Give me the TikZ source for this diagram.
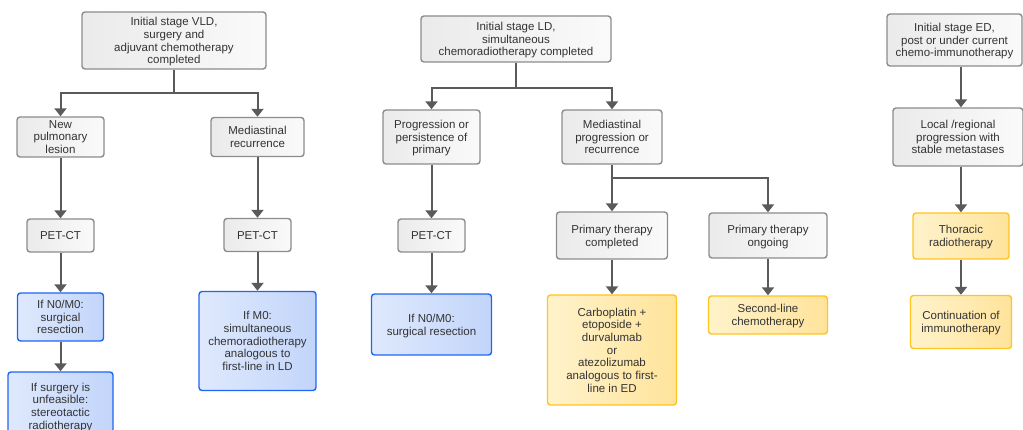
\documentclass[tikz,border=0pt]{standalone}
\usepackage{fontspec}
\setmainfont{Liberation Sans}
\usetikzlibrary{positioning,arrows.meta,calc}
\definecolor{linegrey}{HTML}{5A5A5A}
\definecolor{boxgrey}{HTML}{8C8C8C}
\definecolor{txtgrey}{HTML}{333333}
\definecolor{blueline}{HTML}{1F66F5}
\definecolor{blueA}{HTML}{DFE9FD}
\definecolor{blueB}{HTML}{C2D5FA}
\definecolor{yellowline}{HTML}{FFC41F}
\definecolor{yellowA}{HTML}{FFF3CB}
\definecolor{yellowB}{HTML}{FFE39B}
\tikzset{
  box/.style={rectangle, rounded corners=3pt, line width=1.4pt, align=center,
    inner sep=2pt, text=txtgrey, font=\fontsize{11.5}{12.7}\selectfont,
    text depth=-4.5pt},
  greybox/.style={box, draw=boxgrey, left color=black!8, right color=black!2},
  bluebox/.style={box, draw=blueline, left color=blueA, right color=blueB},
  yellowbox/.style={box, draw=yellowline, left color=yellowA, right color=yellowB},
  arr/.style={draw=linegrey, line width=2pt, -{Triangle[width=12pt,length=8pt]}}
}
\begin{document}
\begin{tikzpicture}[x=1pt,y=-1pt,on grid]
  \useasboundingbox (0,0) rectangle (1023,430);
  % VLD column
  \node[greybox, minimum width=184pt, minimum height=57pt] (vld) at (174,40.5)
    {Initial stage VLD,\\surgery and\\adjuvant chemotherapy\\completed};
  \node[greybox, minimum width=87pt, minimum height=40pt] (lesion) at (60.5,137)
    {New\\pulmonary\\lesion};
  \node[greybox, minimum width=93pt, minimum height=39pt] (recur) [right=197pt of lesion]
    {Mediastinal\\recurrence};
  \node[greybox, minimum width=67pt, minimum height=33pt] (petA) [below=98.5pt of lesion] {PET-CT};
  \node[bluebox, minimum width=86pt, minimum height=48pt] (nzeroA) [below=81.5pt of petA]
    {If N0/M0:\\surgical\\resection};
  \node[bluebox, minimum width=105pt, minimum height=68pt] (unfeas) [below=89pt of nzeroA]
    {If surgery is\\unfeasible:\\stereotactic\\radiotherapy};
  \node[greybox, minimum width=67pt, minimum height=33pt] (petB) [below=98pt of recur] {PET-CT};
  \node[bluebox, minimum width=117pt, minimum height=99pt] (mzero) [below=106pt of petB]
    {If M0:\\simultaneous\\chemoradiotherapy\\analogous to\\first-line in LD};
  % LD column
  \node[greybox, minimum width=190pt, minimum height=46pt] (ld) at (516,39)
    {Initial stage LD,\\simultaneous\\chemoradiotherapy completed};
  \node[greybox, minimum width=97pt, minimum height=54pt] (prog) at (431.5,137)
    {Progression or\\persistence of\\primary};
  \node[greybox, minimum width=100pt, minimum height=54pt] (medprog) [right=180.5pt of prog]
    {Mediastinal\\progression or\\recurrence};
  \node[greybox, minimum width=67pt, minimum height=33pt] (petC) [below=98.5pt of prog] {PET-CT};
  \node[bluebox, minimum width=120pt, minimum height=61pt] (nzeroC) [below=89pt of petC]
    {If N0/M0:\\surgical resection};
  \node[greybox, minimum width=111pt, minimum height=47pt] (primdone) [below=98.5pt of medprog]
    {Primary therapy\\completed};
  \node[yellowbox, minimum width=129pt, minimum height=110pt] (carbo) [below=114.5pt of primdone]
    {Carboplatin +\\etoposide +\\durvalumab\\or\\atezolizumab\\analogous to first-\\line in ED};
  \node[greybox, minimum width=118pt, minimum height=45pt] (ongoing) [right=156pt of primdone]
    {Primary therapy\\ongoing};
  \node[yellowbox, minimum width=119pt, minimum height=38pt] (second) [below=79.5pt of ongoing]
    {Second-line\\chemotherapy};
  % ED column
  \node[greybox, minimum width=135pt, minimum height=52pt] (ed) at (954.5,40)
    {Initial stage ED,\\post or under current\\chemo-immunotherapy};
  \node[greybox, minimum width=130pt, minimum height=58pt] (local) at (958,137)
    {Local /regional\\progression with\\stable metastases};
  \node[yellowbox, minimum width=96pt, minimum height=46pt] (thorax) at (961,236)
    {Thoracic\\radiotherapy};
  \node[yellowbox, minimum width=101pt, minimum height=53pt] (contin) [below=86pt of thorax]
    {Continuation of\\immunotherapy};

  \draw[arr] (vld.south) -- ++(0,23) -| (lesion.north);
  \draw[arr] (vld.south) -- ++(0,23) -| (recur.north);
  \draw[arr] (lesion) -- (petA);
  \draw[arr] (petA) -- (nzeroA);
  \draw[arr] (nzeroA) -- (unfeas);
  \draw[arr] (recur) -- (petB);
  \draw[arr] (petB) -- (mzero);

  \draw[arr] (ld.south) -- ++(0,25) -| (prog.north);
  \draw[arr] (ld.south) -- ++(0,25) -| (medprog.north);
  \draw[arr] (prog) -- (petC);
  \draw[arr] (petC) -- (nzeroC);
  \draw[arr] (medprog) -- (primdone);
  \draw[arr] (medprog.south) -- ++(0,13) -| (ongoing.north);
  \draw[arr] (primdone) -- (carbo);
  \draw[arr] (ongoing) -- (second);

  \draw[arr] (thorax.north |- ed.south) -- (thorax.north |- local.north);
  \draw[arr] (thorax.north |- local.south) -- (thorax.north);
  \draw[arr] (thorax) -- (contin);
\end{tikzpicture}
\end{document}
